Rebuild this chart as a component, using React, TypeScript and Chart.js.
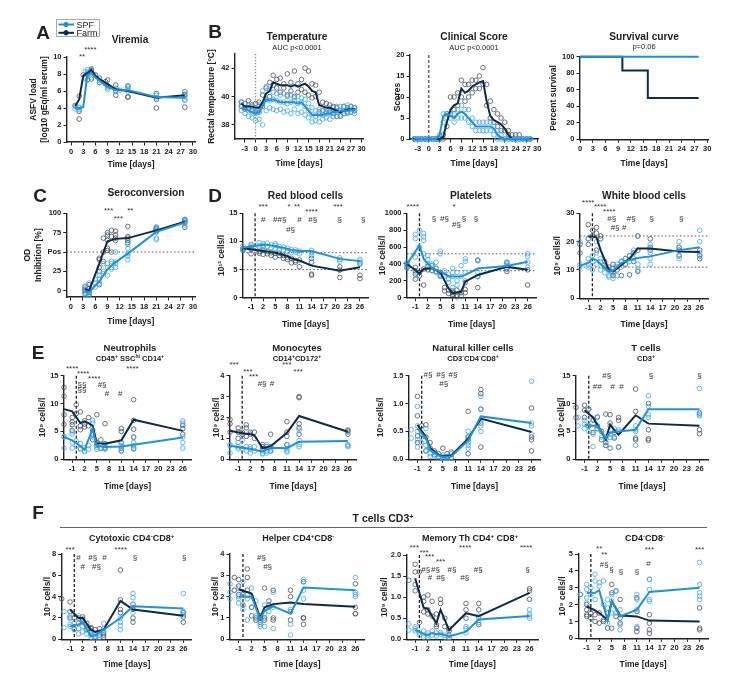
import React, { useEffect, useRef } from 'react';
import { Chart, registerables } from 'chart.js';

const FONT = "'Liberation Sans', Arial, Helvetica, sans-serif";

// ---------------- DATA ----------------
const ticks0to30 = [0, 3, 6, 9, 12, 15, 18, 21, 24, 27, 30];
const ticksM3to30 = [-3, 0, 3, 6, 9, 12, 15, 18, 21, 24, 27, 30];
const ticksBlood = [-1, 2, 5, 8, 11, 14, 17, 20, 23, 26];

// A – Viremia
const virDays = [1, 2, 3, 4, 5, 6, 7, 9, 11, 14, 21, 28];
const virSpf = [3.9, 4.0, 4.1, 7.9, 8.1, 7.6, 7.2, 6.5, 6.1, 6.1, 5.3, 5.2];
const virFarm = [4.2, 5.0, 7.8, 8.1, 8.5, 7.8, 7.4, 6.8, 6.2, 6.0, 5.2, 5.5];
const virSpfPts: [number, number[]][] = [[1, [3.9, 4.2]], [2, [3.8, 4.1, 4.0]], [3.5, [7.5, 8.3]], [4, [8.5, 7.9, 8.2]], [5, [7.6, 8.5]], [6, [7.8]], [7, [7.2, 7.0]], [8.5, [6.8]], [9, [6.4, 6.2]], [11, [6.0, 6.3]], [12, [6.1]], [14, [6.5, 6.3, 6.0, 6.6]], [21, [5.5, 5.7, 5.2]], [28, [5.3, 5.0, 4.9, 5.5]]];
const virFarmPts: [number, number[]][] = [[1, [4.3]], [2, [2.7, 5.4, 3.6]], [3, [7.9]], [4, [7.3, 8.0]], [5, [8.6, 8.4, 7.4]], [6, [7.9]], [7, [7.5, 7.0]], [8.5, [7.1]], [9, [7.3, 6.6]], [11, [6.7, 5.5, 6.0]], [14, [5.3, 5.3, 6.6]], [21, [4.0, 5.7, 5.0]], [28, [5.9, 4.1, 5.6]]];
const virAnn: [string, number, number][] = [['**', 2.7, 10.0], ['****', 4.75, 10.8]];

// B – Temperature
const tempDays = [-4, -3, -2, -1, 0, 1, 2, 3, 4, 5, 6, 7, 8, 9, 10, 11, 12, 13, 14, 15, 16, 17, 18, 19, 20, 21, 22, 23, 24, 25, 26, 27, 28];
const tempSpf = [39.2, 39.1, 39.0, 38.9, 38.8, 38.9, 39.3, 39.8, 39.7, 39.8, 39.7, 39.6, 39.6, 39.6, 39.6, 39.6, 39.5, 39.6, 39.3, 39.0, 38.7, 38.7, 38.7, 38.7, 38.8, 38.8, 38.9, 38.9, 39.0, 39.0, 39.0, 39.1, 39.0];
const tempFarm = [39.5, 39.3, 39.3, 39.3, 39.2, 39.2, 39.6, 40.2, 40.4, 41.0, 40.9, 40.8, 40.8, 40.8, 40.7, 40.8, 40.7, 40.8, 40.9, 40.7, 40.4, 40.3, 39.4, 39.3, 39.2, 39.2, 39.1, 39.0, 38.9, 39.0, 39.1, 39.1, 39.1];
const tempSpfPts = [[39.0, 39.4, 39.6], [38.8, 39.2, 39.5], [38.6, 39.0, 39.4], [38.5, 38.9, 39.3], [38.3, 38.8, 39.2], [38.4, 38.9, 39.4], [38.0, 39.3, 40.4], [39.0, 39.8, 40.7], [39.2, 39.7, 40.5], [39.1, 39.8, 40.3], [39.0, 39.7, 40.2], [39.1, 39.6, 40.1], [38.9, 39.6, 40.2], [39.0, 39.5, 40.0], [38.8, 39.6, 40.1], [39.1, 39.7, 39.9], [38.8, 39.5, 40.0], [38.9, 39.6, 39.9], [38.7, 39.3, 39.8], [38.5, 39.0, 39.5], [38.2, 38.7, 39.2], [38.3, 38.6, 39.0], [38.2, 38.7, 39.1], [38.4, 38.7, 39.0], [38.5, 38.8, 39.1], [38.4, 38.8, 39.2], [38.6, 38.9, 39.2], [38.6, 38.9, 39.3], [38.7, 39.0, 39.3], [38.8, 39.0, 39.3], [38.8, 39.1, 39.4], [38.9, 39.1, 39.3], [38.8, 39.0, 39.2]];
const tempFarmPts = [[39.6, 39.3], [39.5, 39.1], [39.7, 39.2], [39.4, 39.0], [39.5, 38.9], [39.6, 38.9], [40.1, 39.3], [40.6, 39.8], [41.0, 40.0], [41.5, 40.8], [41.2, 40.6], [41.3, 40.3], [40.9, 40.6], [41.6, 40.1], [41.0, 40.4], [41.8, 40.0], [40.9, 40.3], [41.2, 40.5], [42.0, 40.3], [41.8, 40.1], [40.9, 39.9], [40.8, 40.0], [40.3, 38.9], [39.6, 39.0], [39.5, 38.9], [39.4, 38.9], [39.3, 38.8], [39.2, 38.6], [39.0, 38.6], [39.3, 38.8], [39.2, 38.9], [39.3, 38.9], [39.2, 39.0]];

// B – Clinical score
const clinSpf = [0, 0, 0, 0, 0, 0, 0, 1, 5.5, 6, 5.5, 5, 6, 6.5, 6, 5, 4, 3, 3, 3, 3, 3, 2.5, 1, 0.3, 0, 0, 0, 0, 0, 0, 0, 0];
const clinFarm = [0, 0, 0, 0, 0, 0, 0, 0, 0.5, 4, 7, 8, 8.5, 12, 11, 11.5, 12.5, 13, 13.5, 13.8, 9, 5.5, 4.5, 4, 3.5, 2.5, 1, 0, 0, 0, 0, 0, 0];
const clinSpfPts = [[0, 0], [0, 0], [0, 0], [0, 0], [0, 0], [0, 0], [0, 0], [0, 1], [4, 6], [5, 6], [5, 6], [4, 6], [5, 7], [5, 8], [5, 7], [4, 7], [3, 5], [2, 4], [2, 4], [2, 4], [2, 4], [2, 4], [1, 3], [0, 2], [0, 1], [0, 0], [0, 0], [0, 0], [0, 0], [0, 0], [0, 0], [0, 0], [0, 0]];
const clinFarmPts = [[0, 0], [0, 0], [0, 0], [0, 0], [0, 0], [0, 0], [0, 0], [0, 0], [0, 1], [3, 6], [6, 10], [7, 10], [8, 11], [10, 14], [9, 13], [10, 13], [11, 14], [12, 14], [12, 15], [13, 17], [8, 13], [5, 9], [4, 7], [3, 6], [2, 5], [2, 4], [1, 2], [0, 1], [0, 1], [0, 1], [0, 0], [0, 0], [0, 0]];

// B – Survival
const survSpfDays = [0, 28];
const survSpf = [100, 100];
const survFarmDays = [0, 10, 16, 28];
const survFarm = [100, 83.3, 50, 50];

// C – Seroconversion
const seroDays = [3.5, 4.5, 7, 9, 11, 14, 21, 28];
const seroSpf = [0, -2, 12, 28, 37, 48, 76, 88];
const seroFarm = [2, 0, 35, 64, 67, 68, 78, 89];
const seroSpfPts: [number, number[]][] = [[3.5, [-3, 2, 6, -5]], [4.5, [-6, 0, 10, -4]], [6, [5, 10, 15]], [7, [15, 20, 10]], [8, [25, 22, 35]], [9, [30, 20, 35]], [10, [35, 30, 38, 28]], [11, [37, 50, 35, 30]], [14, [48, 45, 40, 55, 60]], [21, [78, 68, 66, 80, 82]], [28, [85, 92, 88, 90]]];
const seroFarmPts: [number, number[]][] = [[3.5, [0, 5, -3, 2]], [4.5, [-5, 3, 8, -2]], [7, [40, 42, 25, 8, 30]], [8, [68, 38, 50]], [9, [65, 72, 75, 55, 52]], [10, [78, 70, 50]], [11, [77, 68, 65, 72]], [14, [83, 62, 65, 68, 70]], [21, [80, 82, 76, 78]], [28, [90, 82, 88, 92]]];
const seroAnn: [string, number, number][] = [['***', 9.3, 103], ['***', 11.7, 93.5], ['**', 14.6, 103]];

// D – Red blood cells
const rbcDays = [-3, -1, 1, 2, 3, 4, 5, 6, 7, 8, 9, 10, 11, 14, 21, 26];
const rbcSpf = [8.9, 9.1, 9.3, 9.4, 9.4, 9.3, 9.2, 9.0, 8.9, 8.7, 8.5, 8.4, 8.3, 8.3, 6.9, 6.5];
const rbcFarm = [8.8, 8.6, 8.4, 8.3, 8.2, 8.1, 8.0, 7.8, 7.6, 7.4, 7.0, 6.8, 6.6, 5.7, 4.8, 5.4];
const rbcSpfPts: [number, number[]][] = [[-3, [8.8, 9.2, 8.5]], [-1, [9.0, 9.5, 8.8, 9.3]], [1, [9.8, 9.2, 9.0]], [2, [9.6, 9.0, 9.3]], [3, [9.7, 9.1]], [4, [9.4, 8.9]], [5, [9.3, 8.7, 9.6]], [6, [9.1, 8.6]], [7, [9.0, 8.5]], [8, [8.8, 8.2]], [9, [8.6, 8.0]], [10, [8.5, 8.1]], [11, [8.3, 7.8]], [14, [8.4, 8.0, 7.5]], [21, [7.1, 6.8, 6.5]], [26, [6.8, 6.5, 6.2]]];
const rbcFarmPts: [number, number[]][] = [[-3, [8.7, 8.4]], [-1, [8.6, 7.8, 8.9]], [1, [8.2, 7.9]], [2, [8.4, 7.7]], [3, [8.2, 7.8]], [4, [8.0, 7.5]], [5, [7.9, 7.2]], [6, [7.5, 7.9]], [7, [7.5, 7.0]], [8, [7.2, 6.8]], [9, [6.2, 7.0]], [10, [6.6, 6.3]], [11, [6.7, 5.5]], [14, [6.3, 4.0, 4.2, 7.0]], [21, [5.5, 3.6, 4.9]], [26, [4.0, 3.4, 6.0]]];
const rbcRef = [8, 5];
const rbcAnn: [string, number, number][] = [['***', 2, 16.2], ['*', 8.4, 16.2], ['**', 10.4, 16.2], ['****', 14, 15.3], ['***', 20.6, 16.2], ['#', 2, 13.8], ['##§', 6.1, 13.8], ['#', 11, 13.8], ['#§', 14.3, 13.8], ['§', 21, 13.8], ['§', 26.8, 13.8], ['#§', 8.8, 12.0]];

// D – Platelets
const pltDays = [-3, 0, 1, 3, 5, 7, 8, 10, 11, 14, 21, 26];
const pltSpf = [400, 620, 460, 350, 310, 255, 250, 250, 270, 345, 375, 425];
const pltFarm = [400, 290, 340, 350, 300, 110, 55, 70, 190, 270, 365, 330];
const pltSpfPts: [number, number[]][] = [[-3, [380, 420, 350]], [-1, [700, 750, 480, 300]], [0, [800, 600]], [1, [760, 520, 680, 720]], [2, [450, 400, 500]], [3, [380, 320, 400]], [4, [420, 300]], [5, [520, 550, 250, 280]], [6, [320, 250, 270]], [7, [280, 180, 220]], [8, [250, 120, 300, 350]], [9, [200, 150, 300]], [10, [250, 380]], [11, [300, 460, 430, 200]], [14, [440, 450, 300, 250]], [21, [420, 380, 400]], [26, [520, 490, 420, 360]]];
const pltFarmPts: [number, number[]][] = [[-3, [360, 400]], [-1, [220, 320, 280, 360]], [0, [260, 300]], [1, [150, 340]], [2, [330, 370]], [3, [380, 320]], [4, [350, 310]], [5, [260, 300]], [6, [120, 80]], [7, [50, 90]], [8, [20, 40, 60, 80]], [9, [10, 30, 90]], [10, [20, 60]], [11, [180, 60, 100]], [14, [440, 250, 120]], [21, [420, 340, 310]], [26, [150, 330]]];
const pltRef = [520, 320];
const pltAnn: [string, number, number][] = [['****', -1.6, 1078], ['*', 8.3, 1078], ['§', 3.5, 940], ['#§', 6, 940], ['§', 10.7, 940], ['§', 13.6, 940], ['#§', 8.9, 861]];

// D – White blood cells
const wbcDays = [-3, -1, 0, 1, 2, 4, 5, 7, 9, 11, 14, 21, 26];
const wbcSpf = [11.5, 12.5, 14, 13.5, 12, 9.5, 9.8, 12.4, 13.5, 14.2, 14.8, 17, 18];
const wbcFarm = [null, 21.8, 21.8, 21.5, 17, 10, 9.4, 11.8, 14, 17.6, 17.6, 16.5, 16.3];
const wbcSpfPts: [number, number[]][] = [[-3, [12, 11, 20]], [-1, [11, 12, 14, 21]], [0, [13, 15, 10]], [1, [20, 16, 12]], [2, [10, 14, 13]], [3, [12, 9]], [4, [8, 7.5, 10]], [5, [7, 9, 11]], [6, [8, 12]], [7, [11, 13]], [8, [12, 14]], [9, [15, 13]], [10, [16, 14, 17]], [11, [10, 12, 22]], [14, [12, 14, 16, 19]], [21, [15, 18, 20, 14]], [26, [24, 20, 15, 16]]];
const wbcFarmPts: [number, number[]][] = [[-3, [19, 16]], [-1, [26, 21, 19]], [0, [22, 24]], [1, [23, 25, 17]], [2, [22, 21]], [3, [13, 11]], [4, [11, 10]], [5, [9, 12, 8]], [6, [11, 10]], [7, [8, 13]], [8, [12, 14]], [9, [8.3, 15]], [10, [16, 13]], [11, [22, 9.5, 17]], [14, [21, 17, 18]], [21, [15, 17, 18]], [26, [15, 17, 14]]];
const wbcRef = [22, 11];
const wbcAnn: [string, number, number][] = [['****', -1, 33.8], ['****', 1.9, 32.2], ['****', 4.1, 30.6], ['#§', 4.7, 27.9], ['#§', 9.4, 27.9], ['§', 14.4, 27.9], ['§', 21.5, 27.9], ['#§', 5.5, 24.9], ['#', 7.7, 24.9]];

// E – Neutrophils
const neuDays = [-3, -1, 1, 2, 3, 4, 5, 7, 11, 14, 26];
const neuSpf = [4.0, 3.4, 2.4, 1.7, 3.6, 5.5, 2.4, 2.2, 2.3, 2.6, 3.9];
const neuFarm = [9.0, 8.6, 6.5, 6.8, 6.5, 6.0, 2.9, 2.8, 3.4, 7.1, 5.1];
const neuSpfPts: [number, number[]][] = [[-3, [4.1, 4.0, 2.0]], [-1, [4.5, 2.0, 3.0, 4.9]], [0, [3.3, 2.5]], [1, [2.0, 1.8, 2.8]], [2, [1.5, 1.4, 2.1]], [3, [1.8, 2.5]], [4, [6.5, 7.0, 4.0]], [5, [2.2, 1.8, 3.1]], [6, [2.0, 1.9]], [7, [2.2, 1.8, 2.7]], [11, [2.0, 1.5, 3.0, 2.5]], [14, [1.8, 2.4, 3.0, 3.9]], [26, [6.5, 6.9, 3.0, 2.0, 4.0]]];
const neuFarmPts: [number, number[]][] = [[-3, [12.9, 11.3, 8.0, 6.3]], [-1, [7.5, 6.7, 6.2, 5.2]], [0, [8.2, 9.8]], [1, [8.5, 6.0, 5.3]], [2, [6.3, 6.9, 5.8]], [3, [6.0, 7.5]], [4, [4.5, 3.5, 5.2]], [5, [2.5, 3.0, 8.0]], [6, [3.5, 2.0]], [7, [6.4, 2.0, 2.8]], [11, [5.0, 5.5, 2.0, 3.0, 1.5]], [14, [10.7, 7.0, 5.4, 4.0, 2.0]], [26, [6.1, 4.5, 5.5]]];
const neuAnn: [string, number, number][] = [['****', -1, 16.3], ['****', 1.7, 15.4], ['****', 4.4, 14.4], ['****', 13.7, 16.3], ['§§', 1.4, 13.3], ['§§', 1.4, 12.5], ['#§', 6.3, 13.3], ['#', 7.5, 11.8], ['#', 10.7, 11.8]];

// E – Monocytes
const monDays = [-3, 0, 2, 3, 5, 7, 11, 14, 26];
const monSpf = [0.65, 0.55, 0.5, 0.45, 0.37, 0.55, 0.53, 0.84, 0.88];
const monFarm = [1.37, 1.25, 1.2, 1.15, 0.53, 0.62, 1.27, 2.07, 1.32];
const monSpfPts: [number, number[]][] = [[-3, [0.65, 0.7, 0.3]], [-1, [0.8, 0.5, 0.6]], [0, [0.9, 0.5]], [1, [0.4, 0.6]], [2, [0.3, 0.5, 0.6]], [3, [0.4, 0.6]], [5, [0.3, 0.25, 0.4]], [6, [0.3, 0.7]], [7, [0.5, 0.4]], [11, [0.5, 0.7, 0.35, 0.4]], [14, [0.6, 0.9, 1.4, 0.7]], [26, [0.6, 0.7, 0.65, 1.3]]];
const monFarmPts: [number, number[]][] = [[-3, [1.3, 1.9, 1.7]], [-1, [1.5, 1.0, 1.3]], [0, [1.3, 1.2]], [1, [1.65, 1.5, 1.1]], [2, [1.3, 1.2]], [3, [1.3, 1.0]], [5, [0.6, 0.7, 0.5]], [6, [0.6, 0.4]], [7, [1.2, 0.6, 0.4]], [11, [1.3, 1.8, 1.1, 0.7]], [14, [2.95, 3.0, 1.7, 1.5, 1.2]], [26, [1.4, 1.2, 1.35]]];
const monAnn: [string, number, number][] = [['***', -2, 4.51], ['***', 11, 4.51], ['***', 1.4, 4.19], ['***', 13.8, 4.19], ['***', 2.8, 3.95], ['#§', 4.9, 3.6], ['#', 7.3, 3.6]];

// E – NK cells
const nkDays = [-1, 1, 2, 4, 5, 7, 11, 14, 26];
const nkSpf = [0.55, 0.38, 0.17, 0.07, 0.04, 0.05, 0.34, 0.77, 0.65];
const nkFarm = [0.62, 0.4, 0.2, 0.08, 0.05, 0.07, 0.37, 0.73, 0.49];
const nkSpfPts: [number, number[]][] = [[-2.5, [0.38, 0.53]], [-1, [0.95, 0.22, 0.5, 0.6, 0.35]], [0, [0.3, 0.4]], [1, [0.15, 0.25, 0.55]], [2, [0.1, 0.2, 0.05]], [3, [0.12, 0.05]], [4, [0.05, 0.02, 0.1]], [5, [0.02, 0.05, 0.08]], [6, [0.03, 0.05]], [7, [0.03, 0.1]], [11, [0.4, 0.5, 0.25, 0.3, 0.2]], [14, [1.13, 0.9, 0.6, 0.5, 0.7]], [26, [1.4, 0.65, 0.6, 0.45]]];
const nkFarmPts: [number, number[]][] = [[-1, [1.13, 0.78, 0.42, 0.3]], [0, [0.45, 0.6]], [1, [0.62, 0.4, 0.15]], [2, [0.2, 0.3]], [3, [0.15, 0.08]], [4, [0.1, 0.05]], [5, [0.2, 0.03]], [6, [0.05, 0.1]], [7, [0.13, 0.03]], [11, [0.86, 0.1, 0.4, 0.35]], [14, [1.25, 1.18, 0.9, 0.22, 0.65]], [26, [0.92, 0.15, 0.4, 0.35]]];
const nkAnn: [string, number, number][] = [['#§', 1.5, 1.51], ['#§', 4.5, 1.51], ['#§', 7.4, 1.51], ['#§', 5.2, 1.36]];

// E – T cells
const tcDays = [-1, 1, 2, 4, 5, 7, 11, 14, 26];
const tcSpf = [6.2, 6.0, 6.0, 3.8, 4.8, 5.0, 5.3, 9.0, 9.0];
const tcFarm = [8.8, 7.5, 6.2, 3.6, 6.2, 4.4, 7.9, 6.4, 6.0];
const tcSpfPts: [number, number[]][] = [[-2.5, [7.5, 6.0]], [-1, [5.5, 6.3, 7.0]], [0, [6.0, 9.0, 5.0]], [1, [7.2, 4.5, 2.3]], [2, [6.0, 7.5, 5.5]], [3, [5.0, 4.0]], [4, [2.5, 3.5, 4.0]], [5, [4.5, 3.9, 6.0]], [6, [4.0, 5.5]], [7, [2.2, 5.0, 5.3]], [11, [2.5, 5.3, 6.0, 5.0]], [14, [11.4, 9.5, 8.0, 7.5]], [26, [12.7, 8.0, 8.3, 7.8]]];
const tcFarmPts: [number, number[]][] = [[-3, [9.3, 7.5]], [-1, [9.7, 8.8, 7.5]], [0, [6.0, 9.0]], [1, [7.0, 4.8]], [2, [7.6, 6.0, 5.5]], [3, [3.5, 5.0]], [4, [8.1, 3.0, 2.5]], [5, [8.0, 6.5, 2.0]], [6, [3.8, 4.8]], [7, [7.0, 2.2, 7.5]], [11, [12.6, 8.6, 3.5, 3.8]], [14, [10.0, 5.3, 3.7, 3.4]], [26, [8.3, 5.3, 4.6]]];
const tcAnn: [string, number, number][] = [['#§', 4.2, 14.95], ['§', 14.6, 14.95], ['§', 26, 14.95], ['##', 2, 13.0], ['#', 5.6, 13.0], ['#', 7.7, 13.0]];

// F – Cytotoxic
const cytDays = [-1, 1, 2, 4, 5, 7, 11, 14, 26];
const cytSpf = [1.2, 1.4, 1.6, 0.3, 0.4, 0.9, 2.0, 3.1, 2.9];
const cytFarm = [2.8, 2.0, 2.0, 0.9, 0.7, 0.9, 3.6, 2.8, 2.2];
const cytSpfPts: [number, number[]][] = [[-2.5, [1.1, 2.6]], [-1, [1.2, 2.2, 1.4, 2.0]], [0, [0.9, 1.5]], [1, [0.5, 1.0, 2.2]], [2, [0.7, 1.6, 1.2]], [3, [1.0, 0.5]], [4, [0.2, 0.4, 0.5]], [5, [0.1, 0.3, 0.5]], [6, [0.2, 0.6]], [7, [1.0, 1.5, 0.8]], [11, [0.9, 2.0, 1.3, 1.6]], [14, [3.9, 4.3, 3.0, 2.5]], [26, [4.3, 2.6, 2.5, 2.3]]];
const cytFarmPts: [number, number[]][] = [[-3, [3.8]], [-1, [3.5, 2.6, 2.0]], [0, [2.0, 1.0]], [1, [2.0, 1.5]], [2, [1.9, 1.8, 2.1]], [3, [1.5, 0.9]], [4, [0.7, 1.0, 1.1]], [5, [0.9, 0.2]], [6, [0.4, 1.0]], [7, [0.2, 0.6, 0.4]], [11, [6.5, 3.7, 2.8, 2.5]], [14, [3.3, 2.0, 1.6, 2.8]], [26, [2.1, 1.6, 2.5]]];
const cytAnn: [string, number, number][] = [['***', -1, 8.38], ['****', 11.1, 8.38], ['#', 1, 7.6], ['#§', 4.4, 7.6], ['#', 7.2, 7.6], ['§', 14.5, 7.6], ['§', 26.2, 7.6], ['#', 2, 6.81], ['#§', 5.3, 6.81]];

// F – Helper
const helDays = [-1, 2, 4, 5, 7, 11, 14, 26];
const helSpf = [2.0, 2.0, 0.95, 1.35, 1.55, 1.2, 2.43, 2.3];
const helFarm = [2.35, 2.15, 1.0, 1.5, 1.65, 1.72, 1.65, 1.53];
const helSpfPts: [number, number[]][] = [[-3, [2.2, 1.9, 2.6]], [-1, [1.7, 2.0, 2.4, 1.9]], [0, [2.2, 1.4, 2.7]], [1, [2.1, 0.9, 1.9]], [2, [2.4, 2.0, 1.5]], [3, [1.8, 1.1]], [4, [0.7, 0.6, 0.9]], [5, [1.6, 1.2, 0.6]], [6, [1.3, 1.6]], [7, [0.5, 1.5, 2.2]], [11, [0.2, 1.4, 0.7]], [14, [2.7, 2.8, 2.3, 1.9]], [26, [2.9, 2.1, 2.0, 2.2]]];
const helFarmPts: [number, number[]][] = [[-2, [2.9, 2.3]], [-1, [2.5, 2.1, 2.8]], [0, [2.1, 1.6]], [1, [3.3, 2.9, 2.3]], [2, [1.5, 1.1]], [3, [1.0, 0.9]], [4, [1.0, 0.8, 1.1]], [5, [2.4, 0.9, 1.0]], [6, [1.6, 1.8]], [7, [2.3, 0.9, 1.0]], [11, [2.3, 2.0, 0.9, 1.3]], [14, [2.7, 1.0, 0.7, 1.0]], [26, [2.6, 1.2, 1.5, 1.2]]];
const helAnn: [string, number, number][] = [['#§', 4.3, 3.8], ['#§', 5.7, 3.41]];

// F – Memory Th
const memDays = [-1, 1, 2, 3, 4, 5, 7, 11, 14, 26];
const memSpf = [0.22, 0.13, 0.1, 0.15, 0.12, 0.13, 0.07, 0.18, 0.47, 0.55];
const memFarm = [1.45, 0.75, 0.72, 0.55, 0.38, 0.7, 0.22, 0.62, 0.55, 1.1];
const memSpfPts: [number, number[]][] = [[-2.5, [0.37, 0.22]], [-1, [0.2, 0.3, 0.25]], [0, [0.15, 0.1]], [1, [0.05, 0.2]], [2, [0.1, 0.15, 0.05]], [3, [0.1, 0.2]], [4, [0.15, 0.08]], [5, [0.12, 0.16]], [6, [0.1, 0.05]], [7, [0.05, 0.03]], [11, [0.15, 0.25, 0.3]], [14, [0.5, 0.4, 0.55]], [26, [0.7, 0.6, 0.5, 0.55]]];
const memFarmPts: [number, number[]][] = [[-2.5, [1.4]], [-1, [1.78, 1.6, 1.3, 1.15]], [0, [1.6, 0.4]], [1, [0.9, 1.0, 0.65]], [2, [1.05, 0.7, 0.6]], [3, [0.9, 0.55]], [4, [0.35, 0.6, 0.3]], [5, [0.95, 0.85]], [6, [0.5, 0.3]], [7, [0.2, 0.1, 0.25]], [11, [0.85, 0.7, 0.5]], [14, [0.85, 0.7, 0.35]], [26, [1.2, 1.15, 0.95]]];
const memAnn: [string, number, number][] = [['***', -1.2, 2.16], ['****', 10.8, 2.16], ['****', 25.2, 2.16], ['***', 1.1, 2.06], ['***', 2.4, 1.96], ['***', 5, 1.84], ['#§', 1.5, 1.64], ['#§', 3.8, 1.64], ['#§', 7.7, 1.64], ['#§', 13.9, 1.64], ['§', 25.5, 1.64], ['#', 2.5, 1.45], ['#§', 5, 1.45], ['#§', 10.7, 1.45]];

// F – CD4-CD8-
const dnDays = [-1, 1, 2, 4, 5, 7, 11, 14, 26];
const dnSpf = [2.7, 2.7, 2.85, 1.05, 2.2, 1.3, 1.7, 2.75, 3.0];
const dnFarm = [1.9, 1.65, 1.5, 1.1, 2.2, 1.35, 1.3, 1.05, 1.0];
const dnSpfPts: [number, number[]][] = [[-2.5, [2.6]], [-1, [3.2, 2.9, 2.4, 2.1]], [0, [2.6, 3.0]], [1, [3.8, 3.4, 2.3]], [2, [3.1, 3.3]], [3, [3.4, 2.0]], [4, [2.3, 1.8, 0.9]], [5, [2.6, 2.2, 1.5]], [6, [1.5, 2.8]], [7, [1.7, 0.5, 0.8]], [11, [2.6, 2.3, 1.7, 0.7]], [14, [3.5, 3.5, 2.9, 2.3, 2.2]], [26, [4.5, 3.2, 2.7, 2.3, 2.5]]];
const dnFarmPts: [number, number[]][] = [[-2.5, [2.6]], [-1, [1.3, 1.7, 2.0, 1.4]], [0, [1.5, 1.2]], [1, [1.0, 1.4]], [2, [1.5, 0.9]], [3, [1.1, 1.0]], [4, [0.6, 1.5]], [5, [3.2, 2.7, 0.6]], [6, [2.8, 1.3]], [7, [2.3, 1.2, 0.9]], [11, [2.4, 0.4, 0.6, 1.6]], [14, [1.4, 0.9, 0.3, 0.5]], [26, [1.8, 0.5, 0.6]]];
const dnAnn: [string, number, number][] = [['**', 2, 5.33], ['**', 3.2, 4.94], ['#§', 3.2, 4.35], ['§', 4.9, 4.06], ['§', 7.2, 3.96], ['§', 11, 3.96], ['***', 14, 5.24], ['#', 13.8, 4.4], ['***', 26, 5.24]];

// ---------------- STYLE ----------------
const SPF_L = '#1d92dc';
const SPF_P = '#45a6e8';
const FARM_L = '#0d2b48';
const FARM_P = '#46515f';

const extrasPlugin = {
  id: 'extras',
  beforeDatasetsDraw(chart: any, _a: any, o: any) {
    const { ctx, scales } = chart;
    const x = scales.x, y = scales.y;
    ctx.save();
    if (o && o.vline !== undefined) {
      ctx.setLineDash(o.vdash || [3, 2]);
      ctx.strokeStyle = o.vcolor || '#222';
      ctx.lineWidth = o.vwidth || 1.3;
      const px = x.getPixelForValue(o.vline);
      ctx.beginPath();
      ctx.moveTo(px, y.getPixelForValue(y.max));
      ctx.lineTo(px, y.getPixelForValue(y.min));
      ctx.stroke();
    }
    ((o && o.hlines) || []).forEach((v: number) => {
      ctx.setLineDash([1.5, 2.2]);
      ctx.strokeStyle = '#555';
      ctx.lineWidth = 1;
      const py = y.getPixelForValue(v);
      ctx.beginPath();
      ctx.moveTo(x.left, py);
      ctx.lineTo(x.right, py);
      ctx.stroke();
    });
    ctx.restore();
  },
  afterDatasetsDraw(chart: any, _a: any, o: any) {
    if (!o || !o.ann) return;
    const { ctx, scales } = chart;
    ctx.save();
    ctx.fillStyle = '#333';
    ctx.font = `8px ${FONT}`;
    ctx.textAlign = 'center';
    ctx.textBaseline = 'middle';
    o.ann.forEach(([t, ax, ay]: [string, number, number]) => {
      ctx.fillText(t, scales.x.getPixelForValue(ax), scales.y.getPixelForValue(ay));
    });
    ctx.restore();
  },
};

Chart.register(...registerables, extrasPlugin);

const lineDs = (xs: number[], ys: (number | null)[], color: string, extra: any = {}) => ({
  data: xs.map((x, i) => ({ x, y: ys[i] })),
  showLine: true,
  borderColor: color,
  backgroundColor: color,
  borderWidth: 2,
  pointRadius: 0,
  tension: 0,
  spanGaps: true,
  clip: false,
  ...extra,
});
const ptsDs = (groups: [number, number[]][], color: string) => ({
  data: groups.flatMap(([x, vs]) => vs.map((y) => ({ x, y }))),
  showLine: false,
  borderColor: color,
  backgroundColor: 'rgba(255,255,255,0)',
  pointRadius: 2.3,
  pointBorderWidth: 0.8,
  clip: false,
});
const byDay = (days: number[], vals: number[][]): [number, number[]][] => days.map((d, i) => [d, vals[i]]);
const std = (days: number[], s: (number | null)[], f: (number | null)[], sp: [number, number[]][], fp: [number, number[]][]) => [
  lineDs(days, s, SPF_L),
  lineDs(days, f, FARM_L),
  ptsDs(sp, SPF_P),
  ptsDs(fp, FARM_P),
];

type Spec = {
  box: [number, number, number, number];
  x: [number, number, number[]];
  y: [number, number, number[]];
  yTitle: string | string[];
  yTitleX: number;
  xTitleY: number;
  datasets: any[];
  extras?: any;
  yFmt?: (v: number) => string;
};

const dash = { vline: 0 };
const specs: Spec[] = [
  { box: [67, 57, 195, 142], x: [-1, 30.5, ticks0to30], y: [0, 10, [0, 2, 4, 6, 8, 10]], yTitle: ['ASFV load', '[log10 gEq/ml serum]'], yTitleX: 34.5, xTitleY: 165, datasets: std(virDays, virSpf, virFarm, virSpfPts, virFarmPts), extras: { ann: virAnn } },
  { box: [235, 54, 363, 139], x: [-5.8, 30.4, ticksM3to30], y: [37, 43, [38, 40, 42]], yTitle: 'Rectal temperature [°C]', yTitleX: 211.7, xTitleY: 163.3, datasets: std(tempDays, tempSpf, tempFarm, byDay(tempDays, tempSpfPts), byDay(tempDays, tempFarmPts)), extras: { vline: 0, vdash: [1.2, 1.8], vcolor: '#888' } },
  { box: [410, 55, 538, 139], x: [-5.2, 30.2, ticksM3to30], y: [0, 20, [0, 5, 10, 15, 20]], yTitle: 'Scores', yTitleX: 398, xTitleY: 163.3, datasets: std(tempDays, clinSpf, clinFarm, byDay(tempDays, clinSpfPts), byDay(tempDays, clinFarmPts)), extras: { vline: 0, vdash: [3, 2], vcolor: '#555' } },
  { box: [580, 56.7, 708, 139.3], x: [0, 30.2, ticks0to30], y: [0, 100, [0, 20, 40, 60, 80, 100]], yTitle: 'Percent survival', yTitleX: 554, xTitleY: 163.3, datasets: [lineDs(survSpfDays, survSpf, SPF_L, { stepped: 'before' }), lineDs(survFarmDays, survFarm, FARM_L, { stepped: 'before' })] },
  { box: [66.7, 213.3, 195, 297], x: [-1, 30.5, ticks0to30], y: [-8, 100, [0, 25, 50, 75, 100]], yTitle: ['OD', 'Inhibition [%]'], yTitleX: 28.3, xTitleY: 321.7, datasets: std(seroDays, seroSpf, seroFarm, seroSpfPts, seroFarmPts), extras: { hlines: [50], ann: seroAnn }, yFmt: (v) => (v === 50 ? 'Pos' : String(v)) },
  { box: [243, 213.3, 368, 297.7], x: [-3, 28, ticksBlood], y: [0, 15, [0, 5, 10, 15]], yTitle: '10¹² cells/l', yTitleX: 222, xTitleY: 325, datasets: std(rbcDays, rbcSpf, rbcFarm, rbcSpfPts, rbcFarmPts), extras: { ...dash, hlines: rbcRef, ann: rbcAnn } },
  { box: [407, 213.3, 536, 297.7], x: [-3, 28, ticksBlood], y: [0, 1000, [0, 200, 400, 600, 800, 1000]], yTitle: '10⁹ cells/l', yTitleX: 383, xTitleY: 325, datasets: std(pltDays, pltSpf, pltFarm, pltSpfPts, pltFarmPts), extras: { ...dash, hlines: pltRef, ann: pltAnn } },
  { box: [580, 213.3, 708, 298.3], x: [-3, 28, ticksBlood], y: [0, 30, [0, 10, 20, 30]], yTitle: '10⁹ cells/l', yTitleX: 558, xTitleY: 325, datasets: std(wbcDays, wbcSpf, wbcFarm, wbcSpfPts, wbcFarmPts), extras: { ...dash, hlines: wbcRef, ann: wbcAnn } },
  { box: [64, 375.7, 191, 459.3], x: [-3, 28, ticksBlood], y: [0, 15, [0, 5, 10, 15]], yTitle: '10⁹ cells/l', yTitleX: 43.3, xTitleY: 486.7, datasets: std(neuDays, neuSpf, neuFarm, neuSpfPts, neuFarmPts), extras: { ...dash, ann: neuAnn } },
  { box: [230, 375.7, 356, 459.3], x: [-3, 28, ticksBlood], y: [0, 4, [0, 1, 2, 3, 4]], yTitle: '10⁹ cells/l', yTitleX: 216.7, xTitleY: 486.7, datasets: std(monDays, monSpf, monFarm, monSpfPts, monFarmPts), extras: { ...dash, ann: monAnn } },
  { box: [409, 375.7, 540, 459.3], x: [-3, 28, ticksBlood], y: [0, 1.5, [0, 0.5, 1, 1.5]], yTitle: '10⁹ cells/l', yTitleX: 381, xTitleY: 486.7, datasets: std(nkDays, nkSpf, nkFarm, nkSpfPts, nkFarmPts), extras: { ...dash, ann: nkAnn }, yFmt: (v) => v.toFixed(1) },
  { box: [576, 375.7, 708, 459.3], x: [-3, 28, ticksBlood], y: [0, 15, [0, 5, 10, 15]], yTitle: '10⁹ cells/l', yTitleX: 561.7, xTitleY: 486.7, datasets: std(tcDays, tcSpf, tcFarm, tcSpfPts, tcFarmPts), extras: { ...dash, ann: tcAnn } },
  { box: [61.7, 554, 191.7, 639.3], x: [-3, 28, ticksBlood], y: [0, 8, [0, 2, 4, 6, 8]], yTitle: '10⁹ cells/l', yTitleX: 48.3, xTitleY: 665, datasets: std(cytDays, cytSpf, cytFarm, cytSpfPts, cytFarmPts), extras: { ...dash, ann: cytAnn } },
  { box: [230, 554, 364, 639.3], x: [-3, 28, ticksBlood], y: [0, 4, [0, 1, 2, 3, 4]], yTitle: '10⁹ cells/l', yTitleX: 216, xTitleY: 665, datasets: std(helDays, helSpf, helFarm, helSpfPts, helFarmPts), extras: { ...dash, ann: helAnn } },
  { box: [406.7, 555, 538, 639.3], x: [-3, 28, ticksBlood], y: [0, 2, [0, 0.5, 1, 1.5, 2]], yTitle: '10⁹ cells/l', yTitleX: 385, xTitleY: 665, datasets: std(memDays, memSpf, memFarm, memSpfPts, memFarmPts), extras: { ...dash, ann: memAnn }, yFmt: (v) => v.toFixed(1) },
  { box: [578.3, 554, 708, 638.3], x: [-3, 28, ticksBlood], y: [0, 5, [0, 1, 2, 3, 4, 5]], yTitle: '10⁹ cells/l', yTitleX: 563.3, xTitleY: 665, datasets: std(dnDays, dnSpf, dnFarm, dnSpfPts, dnFarmPts), extras: { ...dash, ann: dnAnn } },
];

const TITLE_SIZE = 8.5;
const LH = TITLE_SIZE * 1.2;

function ChartBox({ spec }: { spec: Spec }) {
  const ref = useRef<HTMLCanvasElement>(null);
  const [L, T, R, B] = spec.box;
  const cLeft = Math.round(spec.yTitleX - LH / 2);
  const cTop = Math.round(T - 36);
  const yW = L - cLeft;
  const xH = spec.xTitleY - B + LH / 2;
  const width = Math.round(R - cLeft + 12);
  const height = Math.round(B - cTop + xH + 2);
  const padTop = T - cTop;
  const padRight = width - (R - cLeft);
  const padBottom = height - xH - (B - cTop);

  useEffect(() => {
    const tickFont = { size: 7.5, weight: 'bold' as const, family: FONT };
    const grid = { drawOnChartArea: false, drawTicks: true, tickLength: 3.5, color: '#222', lineWidth: 1 };
    const border = { color: '#222', width: 1.4 };
    const titleFont = { size: TITLE_SIZE, weight: 'bold' as const, family: FONT };
    const chart = new Chart(ref.current as HTMLCanvasElement, {
      type: 'scatter',
      data: { datasets: spec.datasets },
      options: {
        responsive: false,
        animation: false,
        events: [],
        layout: { padding: { top: padTop, right: padRight, bottom: padBottom, left: 0 } },
        plugins: { legend: { display: false }, tooltip: { enabled: false }, extras: spec.extras || {} } as any,
        scales: {
          x: {
            type: 'linear',
            min: spec.x[0],
            max: spec.x[1],
            afterBuildTicks: (s: any) => { s.ticks = spec.x[2].map((v) => ({ value: v })); },
            afterFit: (s: any) => { s.height = xH; },
            ticks: { font: tickFont, color: '#222', padding: 1.5, autoSkip: false, maxRotation: 0, callback: (v: any) => String(v) },
            grid,
            border,
            title: { display: true, text: 'Time [days]', font: titleFont, color: '#222', padding: 0 },
          },
          y: {
            type: 'linear',
            min: spec.y[0],
            max: spec.y[1],
            afterBuildTicks: (s: any) => { s.ticks = spec.y[2].map((v) => ({ value: v })); },
            afterFit: (s: any) => { s.width = yW; },
            ticks: { font: tickFont, color: '#222', padding: 2, autoSkip: false, callback: (v: any) => (spec.yFmt ? spec.yFmt(Number(v)) : String(v)) },
            grid,
            border,
            title: { display: true, text: spec.yTitle as any, font: titleFont, color: '#222', padding: 0 },
          },
        },
      } as any,
    });
    return () => chart.destroy();
  }, []);

  return (
    <canvas
      ref={ref}
      width={width}
      height={height}
      style={{ position: 'absolute', left: cLeft, top: cTop, width, height }}
    />
  );
}

const Sup = ({ c }: { c: string }) => (
  <span style={{ fontSize: '0.68em', position: 'relative', top: '-0.45em' }}>{c}</span>
);

type TextItem = { x: number; y: number; size: number; bold?: boolean; c: React.ReactNode };
const texts: TextItem[] = [
  { x: 43, y: 32, size: 19, bold: true, c: 'A' },
  { x: 215, y: 31, size: 19, bold: true, c: 'B' },
  { x: 40, y: 195, size: 19, bold: true, c: 'C' },
  { x: 215, y: 195, size: 19, bold: true, c: 'D' },
  { x: 38, y: 352, size: 19, bold: true, c: 'E' },
  { x: 38, y: 512, size: 19, bold: true, c: 'F' },
  { x: 130, y: 40, size: 10.2, bold: true, c: 'Viremia' },
  { x: 297, y: 37, size: 10.2, bold: true, c: 'Temperature' },
  { x: 297, y: 48, size: 7.5, c: 'AUC p<0.0001' },
  { x: 474, y: 37, size: 10.2, bold: true, c: 'Clinical Score' },
  { x: 474, y: 47.5, size: 7.5, c: 'AUC p<0.0001' },
  { x: 644, y: 37, size: 10.2, bold: true, c: 'Survival curve' },
  { x: 644, y: 46.5, size: 7.5, c: 'p=0.06' },
  { x: 146, y: 193, size: 10.2, bold: true, c: 'Seroconversion' },
  { x: 305.5, y: 196, size: 10.2, bold: true, c: 'Red blood cells' },
  { x: 471, y: 196, size: 10.2, bold: true, c: 'Platelets' },
  { x: 644, y: 196, size: 10.2, bold: true, c: 'White blood cells' },
  { x: 130, y: 347.5, size: 9.5, bold: true, c: 'Neutrophils' },
  { x: 130, y: 358.5, size: 7.5, bold: true, c: <>CD45<Sup c="+" /> SSC<Sup c="hi" /> CD14<Sup c="+" /></> },
  { x: 297, y: 347.5, size: 9.5, bold: true, c: 'Monocytes' },
  { x: 297, y: 358.5, size: 7.5, bold: true, c: <>CD14<Sup c="+" />CD172<Sup c="+" /></> },
  { x: 473, y: 347.5, size: 9.5, bold: true, c: 'Natural killer cells' },
  { x: 473, y: 358.5, size: 7.5, bold: true, c: <>CD3<Sup c="-" />CD4<Sup c="-" />CD8<Sup c="+" /></> },
  { x: 646, y: 347.5, size: 9.5, bold: true, c: 'T cells' },
  { x: 646, y: 358.5, size: 7.5, bold: true, c: <>CD3<Sup c="+" /></> },
  { x: 383, y: 519, size: 10.5, bold: true, c: <>T cells CD3<Sup c="+" /></> },
  { x: 131.7, y: 538, size: 9, bold: true, c: <>Cytotoxic CD4<Sup c="-" />CD8<Sup c="+" /></> },
  { x: 298.3, y: 538, size: 9, bold: true, c: <>Helper CD4<Sup c="+" />CD8<Sup c="-" /></> },
  { x: 470, y: 538, size: 9, bold: true, c: <>Memory Th CD4<Sup c="+" /> CD8<Sup c="+" /></> },
  { x: 645, y: 538, size: 9, bold: true, c: <>CD4<Sup c="-" />CD8<Sup c="-" /></> },
];

function Legend() {
  return (
    <div style={{ position: 'absolute', left: 56, top: 19, width: 44, height: 18, border: '1px solid #aaa', background: '#fff', boxSizing: 'border-box' }}>
      <svg width={44} height={18} style={{ position: 'absolute', left: -1, top: -1 }}>
        <line x1={2.5} y1={5.5} x2={18} y2={5.5} stroke={SPF_L} strokeWidth={2} />
        <circle cx={10} cy={5.5} r={2.2} fill={SPF_L} stroke={SPF_L} />
        <text x={20.5} y={8.8} fontSize={9} fontFamily={FONT} fill="#222">SPF</text>
        <line x1={2.5} y1={13.8} x2={18} y2={13.8} stroke={FARM_L} strokeWidth={2} />
        <circle cx={10} cy={13.8} r={2.2} fill={FARM_L} stroke={FARM_L} />
        <text x={20.5} y={17.1} fontSize={9} fontFamily={FONT} fill="#222">Farm</text>
      </svg>
    </div>
  );
}

export default function App() {
  return (
    <div style={{ position: 'absolute', left: 0, top: 0, width: 747, height: 693, background: '#fff', overflow: 'hidden', fontFamily: FONT, color: '#222' }}>
      {specs.map((s, i) => (
        <ChartBox key={i} spec={s} />
      ))}
      {texts.map((t, i) => (
        <div
          key={'t' + i}
          style={{ position: 'absolute', left: t.x, top: t.y, transform: 'translate(-50%, -50%)', whiteSpace: 'nowrap', fontSize: t.size, fontWeight: t.bold ? 'bold' : 'normal', lineHeight: 1 }}
        >
          {t.c}
        </div>
      ))}
      <div style={{ position: 'absolute', left: 60, top: 526.5, width: 647, height: 0, borderTop: '1.5px solid #666' }} />
      <Legend />
    </div>
  );
}
